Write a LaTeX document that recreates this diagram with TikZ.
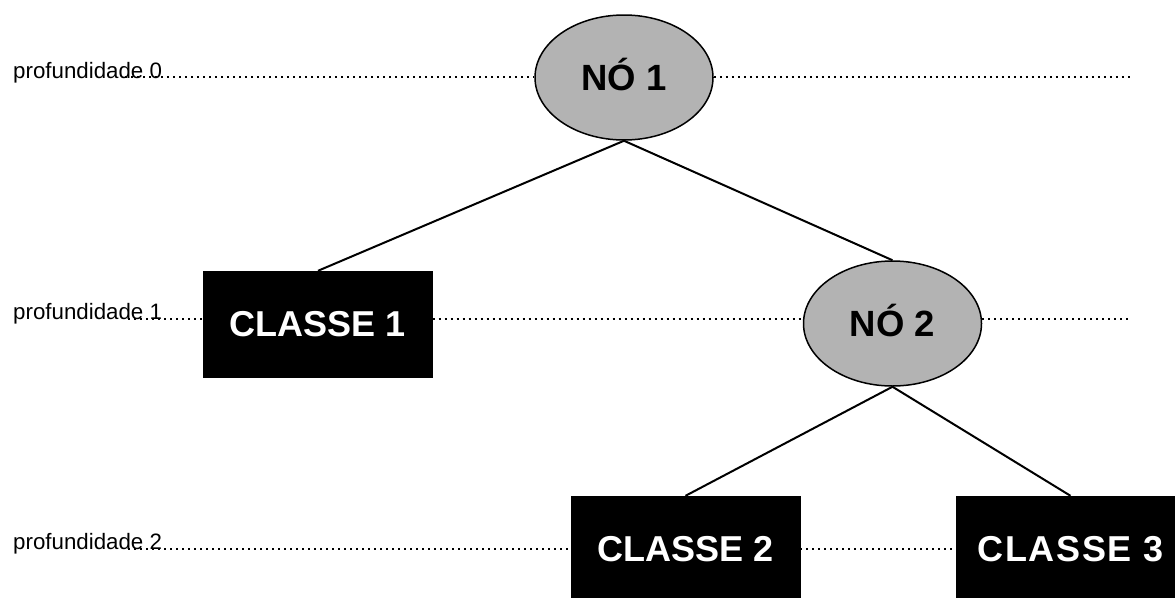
\documentclass[tikz,border=0pt]{standalone}
\usepackage{fontspec}
\setmainfont{Liberation Sans}
\usetikzlibrary{shapes.geometric}
\definecolor{nodegray}{HTML}{B3B3B3}
\tikzset{
  treenode/.style={ellipse, draw=black, line width=1.5pt, fill=nodegray,
    minimum width=178pt, minimum height=125pt, inner sep=0pt,
    font=\bfseries\fontsize{36.5}{36.5}\selectfont, text height=26pt, text depth=0pt},
  leafbox/.style={rectangle, fill=black, draw=black, text=white,
    minimum width=229pt, minimum height=106pt, inner sep=0pt,
    font=\bfseries\fontsize{36}{36}\selectfont, text height=25.8pt, text depth=0pt},
  depthlabel/.style={anchor=base west, inner sep=0pt, font=\fontsize{22.3}{22.3}\selectfont},
  edge/.style={line width=2pt},
  levelline/.style={line width=1.8pt, dash pattern=on 1.8pt off 4.2pt}
}
\begin{document}
\begin{tikzpicture}[x=1pt,y=-1pt]
\useasboundingbox (0,0) rectangle (1175,597);
% dotted level line ends
\coordinate (L0a) at (125,77);
\coordinate (L0b) at (1130,77);
\coordinate (L1a) at (128,319);
\coordinate (L1b) at (1130,319);
\coordinate (L2a) at (128,549);
% nodes
\node[treenode] (n1) at (624,77.5) {NÓ 1};
\node[treenode] (n2) at (892.5,323.5) {NÓ 2};
\node[leafbox] (c1) at (318,324) {CLASSE 1};
\node[leafbox] (c2) at (685.5,549) {CLASSE 2};
\node[leafbox] (c3) at (1070.5,549) {\addfontfeature{LetterSpace=4.5}CLASSE 3};
% dotted level lines
\draw[levelline] (L0a) -- (n1.west |- L0a);
\draw[levelline] (n1.east |- L0b) -- (L0b);
\draw[levelline] (L1a) -- (c1.west |- L1a);
\draw[levelline] (c1.east |- L1a) -- (n2.west |- L1a);
\draw[levelline] (n2.east |- L1b) -- (L1b);
\draw[levelline] (L2a) -- (c2.west |- L2a);
\draw[levelline] (c2.east |- L2a) -- (c3.west |- L2a);
% labels
\node[depthlabel] (d0) at (13,78) {profundidade 0};
\node[depthlabel] (d1) at (13,319) {profundidade 1};
\node[depthlabel] (d2) at (13,549) {profundidade 2};
% connectors
\draw[edge] (n1.south) -- (c1.north);
\draw[edge] (n1.south) -- (n2.north);
\draw[edge] (n2.south) -- (c2.north);
\draw[edge] (n2.south) -- (c3.north);
\end{tikzpicture}
\end{document}
